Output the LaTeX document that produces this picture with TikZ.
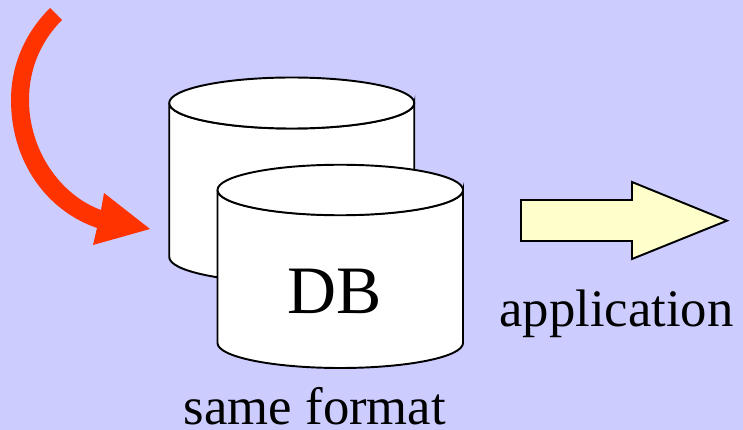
\documentclass[tikz,border=0pt]{standalone}
\usepackage{fontspec}
\setmainfont{Liberation Serif}
\definecolor{backblue}{HTML}{CCCCFF}
\definecolor{swooshred}{HTML}{FF3300}
\definecolor{arrowyellow}{HTML}{FFFFCC}
\tikzset{
         drum/.style={draw=black,fill=white,line width=1.1pt},
         biglabel/.style={font=\fontsize{30}{32}\selectfont,anchor=base,inner sep=0pt},
         dblabel/.style={font=\fontsize{38.6}{40}\selectfont,anchor=base,inner sep=0pt}
        }
\begin{document}
\begin{tikzpicture}
\useasboundingbox (0,0) rectangle (14.86,8.6);
%background
\fill[backblue](0,0) rectangle (14.86,8.6);
%the red arrow
\fill[swooshred](1,8.44) .. controls (.5,7.94) and (.22,7.3) .. (.22,6.6)
 .. controls (.22,5.4) and (.9,4.4) .. (1.94,4.04)
 --(1.86,3.7)--(3,4.02)--(2.08,4.74)--(2.02,4.4)
 .. controls (1.2,4.7) and (.58,5.6) .. (.58,6.6)
 .. controls (.58,7.2) and (.8,7.76) .. (1.24,8.2)--cycle;
%back drum
\draw[drum](3.385,6.54)--(3.385,3.46) arc (180:360:2.45 and .51)--(8.285,6.54) arc (0:-180:2.45 and .51);
\draw[drum](5.835,6.54) ellipse (2.45 and .51);
%front drum
\draw[drum](4.35,4.8)--(4.35,1.74) arc (180:360:2.455 and .5)--(9.26,4.8) arc (0:-180:2.455 and .5);
\draw[drum](6.805,4.8) ellipse (2.455 and .505);
%the yellow arrow
\draw[fill=arrowyellow,line width=1.1pt,line join=miter](10.42,4.6)--(12.64,4.6)--(12.64,4.96)--(14.54,4.186)--(12.64,3.42)--(12.64,3.78)--(10.42,3.78)--cycle;
%labels
\node[dblabel](dbtext) at(6.7,2.32){DB};
\node[biglabel](apptext) at(12.33,2.07){application};
\node[biglabel](formattext) at(6.3,.1){same format};
\end{tikzpicture}
\end{document}
